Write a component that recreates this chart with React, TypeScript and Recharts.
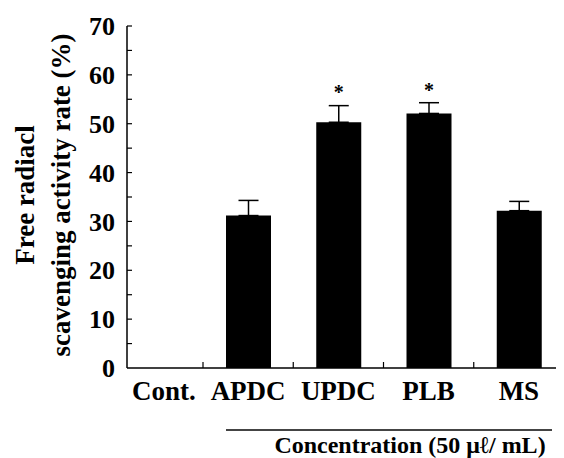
import React from "react";
import {
  BarChart,
  Bar,
  XAxis,
  YAxis,
  ErrorBar,
  LabelList,
} from "recharts";

// groups on the x axis
const groups = ["Cont.", "APDC", "UPDC", "PLB", "MS"];
// scavenging activity rate (%)
const rates = [0, 31.2, 50.3, 52.1, 32.2];
// upper error (standard deviation)
const errors = [0, 3.1, 3.4, 2.2, 1.9];
// significance marks
const marks = ["", "", "*", "*", ""];
// y axis ticks (labels only every 10)
const yTicks = [0, 5, 10, 15, 20, 25, 30, 35, 40, 45, 50, 55, 60, 65, 70];

const data = groups.map((g, i) => ({
  name: g,
  rate: rates[i],
  err: [0, errors[i]],
  mark: marks[i],
}));

const FONT = "'Liberation Serif', 'Times New Roman', serif";
const BAND = 90.25;

// x tick: label plus a small inward tick at the left band edge
const XTick = (props: any) => {
  const { x, y, payload, index } = props;
  return (
    <g>
      {index > 0 && (
        <line x1={x - BAND / 2} x2={x - BAND / 2} y1={y - 6} y2={y} stroke="#000" strokeWidth={1.2} />
      )}
      <text
        x={index === 0 ? x + 6 : x}
        y={y + 32}
        textAnchor="middle"
        fontFamily={FONT}
        fontWeight="bold"
        fontSize={27}
        fill="#000"
      >
        {payload.value}
      </text>
    </g>
  );
};

// y tick: inward tick, number every 10
const YTick = (props: any) => {
  const { x, y, payload } = props;
  const major = payload.value % 10 === 0;
  return (
    <g>
      {payload.value !== 0 && (
        <line x1={x} x2={x + 5} y1={y} y2={y} stroke="#000" strokeWidth={1.2} />
      )}
      {major && (
        <text
          x={x - 12}
          y={y}
          dy="0.35em"
          textAnchor="end"
          fontFamily={FONT}
          fontWeight="bold"
          fontSize={26}
          fill="#000"
        >
          {payload.value}
        </text>
      )}
    </g>
  );
};

const YLabel = () => {
  const cy = 187;
  return (
    <g fontFamily={FONT} fontWeight="bold" fontSize={27} fill="#000">
      <text x={17} y={cy} textAnchor="middle" dominantBaseline="central" transform={`rotate(-90, 17, ${cy})`}>
        Free radiacl
      </text>
      <text x={53} y={cy} textAnchor="middle" dominantBaseline="central" transform={`rotate(-90, 53, ${cy})`}>
        scavenging activity rate (%)
      </text>
    </g>
  );
};

const XLabel = (props: any) => {
  const { viewBox } = props;
  const { x, y } = viewBox;
  return (
    <g>
      <line x1={x + 99} x2={x + 425} y1={y + 62} y2={y + 62} stroke="#444" strokeWidth={2} />
      <text
        x={x + 283}
        y={y + 85}
        textAnchor="middle"
        fontFamily={FONT}
        fontWeight="bold"
        fontSize={24}
        fill="#000"
      >
        Concentration (50 μℓ/ mL)
      </text>
    </g>
  );
};

// asterisk above the error bar
const Star = (props: any) => {
  const { x, y, width, height, value, index } = props;
  if (!value) return null;
  const perUnit = height / rates[index];
  const top = y - errors[index] * perUnit;
  return (
    <text
      x={x + width / 2}
      y={top + 1}
      textAnchor="middle"
      fontFamily={FONT}
      fontWeight="bold"
      fontSize={20}
      fill="#000"
    >
      {value}
    </text>
  );
};

export default function App() {
  return (
    <BarChart
      width={556}
      height={450}
      data={data}
      margin={{ top: 18, right: 0, left: 0, bottom: 0 }}
    >
      <XAxis
        dataKey="name"
        height={90}
        padding={{ left: -14.25, right: 0 }}
        tickLine={false}
        tickSize={0}
        tickMargin={0}
        tick={<XTick />}
        axisLine={{ stroke: "#000", strokeWidth: 1.5 }}
        interval={0}
        label={<XLabel />}
      />
      <YAxis
        width={119}
        domain={[0, 70]}
        ticks={yTicks}
        interval={0}
        tickLine={false}
        tickSize={0}
        tickMargin={0}
        tick={<YTick />}
        axisLine={{ stroke: "#000", strokeWidth: 1.5 }}
        label={<YLabel />}
      />
      <Bar dataKey="rate" fill="#000" barSize={45} isAnimationActive={false}>
        <ErrorBar dataKey="err" width={10} stroke="#000" strokeWidth={1.5} direction="y" />
        <LabelList dataKey="mark" content={<Star />} />
      </Bar>
    </BarChart>
  );
}
